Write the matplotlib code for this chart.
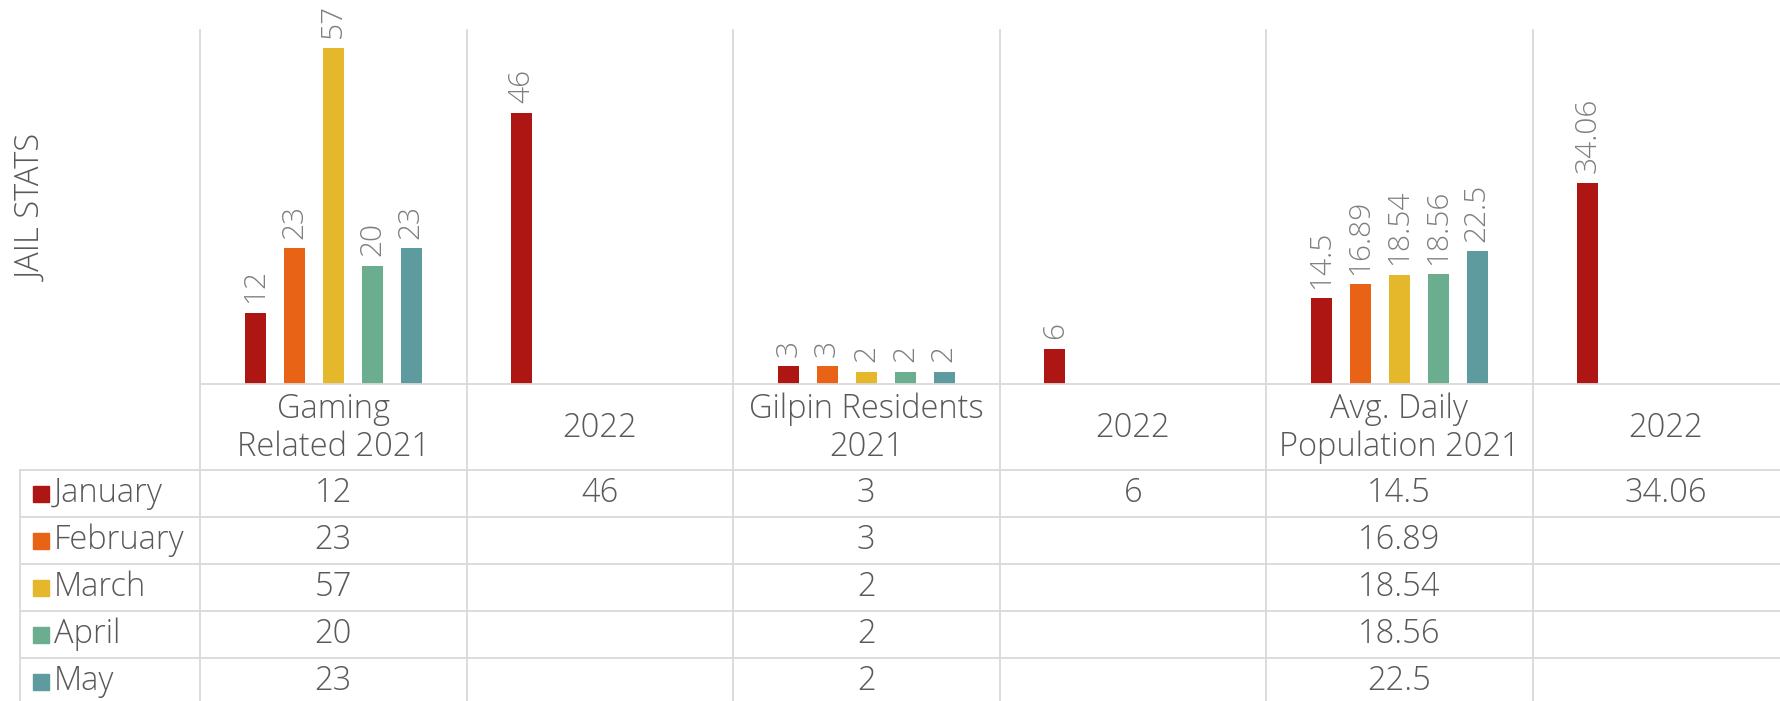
import numpy as np
import matplotlib
matplotlib.use("Agg")
import matplotlib.pyplot as plt
from matplotlib import font_manager as fm

categories = ["Gaming\nRelated 2021", "2022", "Gilpin Residents\n2021", "2022",
              "Avg. Daily\nPopulation 2021", "2022"]
series_names = ["January", "February", "March", "April", "May"]
january = [12, 46, 3, 6, 14.5, 34.06]
february = [23, None, 3, None, 16.89, None]
march = [57, None, 2, None, 18.54, None]
april = [20, None, 2, None, 18.56, None]
may = [23, None, 2, None, 22.5, None]
series_values = [january, february, march, april, may]
colors = ["#AE1614", "#E86315", "#E5B72B", "#6AAE8F", "#5E9B9E"]
axis_title = "JAIL STATS"

avail = {f.name for f in fm.fontManager.ttflist}
font = "Open Sans" if "Open Sans" in avail else "DejaVu Sans"
plt.rcParams['font.family'] = [font, 'DejaVu Sans']

W, H = 1780, 701
fig = plt.figure(figsize=(W / 100, H / 100), dpi=100)

x0 = 200.0
colw = 266.5
base_y = 384.0
top_y = 30.0
row_h = 47.0
head_bot = 470.0
left_x = 20.0
grid_c = "#D9D9D9"
txt_c = "#595959"
lab_c = "#7F7F7F"
fs = 23.5
lfs = 21.5
wt = "light"

ncat = len(categories)
ax = fig.add_axes([x0 / W, (H - base_y) / H, ncat * colw / W, (base_y - top_y) / H])
ax.set_xlim(0, ncat)
ax.set_ylim(0, 60)
ax.axis("off")

slot = 0.146
bw = 0.079
for j, (vals, c) in enumerate(zip(series_values, colors)):
    xs, ys = [], []
    for i, v in enumerate(vals):
        if v is not None:
            xs.append(i + 0.5 + (j - 2) * slot)
            ys.append(v)
    bars = ax.bar(xs, ys, width=bw, color=c, zorder=3)
    ax.bar_label(bars, labels=[f"{v:g}" for v in ys], rotation=90, padding=7,
                 fontsize=lfs, color=lab_c, fontweight=wt)

# overlay for grid/table
ov = fig.add_axes([0, 0, 1, 1])
ov.set_xlim(0, W)
ov.set_ylim(H, 0)
ov.axis("off")
ov.patch.set_alpha(0)
lw = 1.3

for i in range(ncat + 1):
    x = x0 + i * colw
    ov.plot([x, x], [top_y, H], color=grid_c, lw=lw, zorder=1)
ov.plot([left_x, left_x], [head_bot, H], color=grid_c, lw=lw)
ov.plot([x0, W], [base_y, base_y], color=grid_c, lw=lw)
for r in range(len(series_names) + 1):
    y = head_bot + r * row_h
    ov.plot([left_x, W], [y, y], color=grid_c, lw=lw)

for i, cat in enumerate(categories):
    ov.text(x0 + (i + 0.5) * colw, (base_y + head_bot) / 2 + 1, cat, ha="center", va="center",
            fontsize=fs, color=txt_c, fontweight=wt, linespacing=1.17)

for r, (name, vals, c) in enumerate(zip(series_names, series_values, colors)):
    yc = head_bot + (r + 0.5) * row_h
    ov.add_patch(plt.Rectangle((33, yc - 8), 16, 16, color=c))
    ov.text(54, yc, name, ha="left", va="center", fontsize=fs, color=txt_c, fontweight=wt)
    for i, v in enumerate(vals):
        if v is not None:
            ov.text(x0 + (i + 0.5) * colw, yc, f"{v:g}", ha="center", va="center",
                    fontsize=fs, color=txt_c, fontweight=wt)

ov.text(33, 208, axis_title, rotation=90, ha="center", va="center", fontsize=fs,
        color=txt_c, fontweight=wt)

fig.savefig("out.png", dpi=100)
